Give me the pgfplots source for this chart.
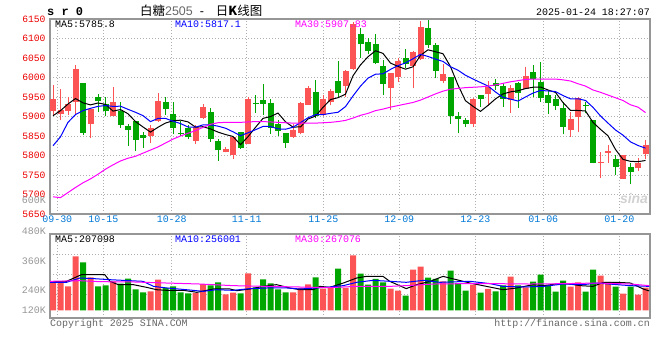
\documentclass[border=0pt]{standalone}
\usepackage{pgfplots}
\pgfplotsset{compat=1.18}
\usepackage{pgfplotstable}
\usepackage{fontspec}
\setmainfont{Liberation Sans}
\setmonofont{Liberation Mono}
\newfontfamily\cjk{Noto Sans CJK SC}
\definecolor{cred}{RGB}{252,84,84}
\definecolor{cgreen}{RGB}{0,166,0}
\definecolor{tickred}{RGB}{235,0,0}
\definecolor{dateblue}{RGB}{0,120,215}
\definecolor{fgray}{RGB}{150,150,150}
\definecolor{ggray}{RGB}{175,175,175}
\definecolor{mablue}{RGB}{0,0,255}
\definecolor{mamag}{RGB}{255,0,255}

\pgfplotstableread{
x o h l c
0 5914 5981 5904 5945
1 5907 5970 5891 5917
2 5914 5951 5904 5932
3 5936 6032 5904 6023
5 5882 5921 5846 5919
8 5902 5976 5900 5936
13 5851 5878 5833 5870
14 5888 5960 5887 5940
19 5837 5878 5829 5873
20 5895 5933 5894 5924
23 5808 5823 5808 5817
24 5801 5848 5791 5848
26 5829 5951 5829 5945
32 5848 5882 5846 5865
33 5857 5938 5854 5935
34 5930 5979 5929 5972
36 5904 5955 5902 5945
37 5936 5970 5929 5965
39 5979 6019 5951 6017
40 6022 6143 6019 6136
45 5974 6012 5917 6012
46 6002 6049 5989 6042
48 6030 6068 5972 6066
49 6047 6145 6045 6130
52 5992 6034 5985 6009
56 5882 5947 5874 5945
58 5958 5991 5928 5976
61 5942 5981 5910 5972
63 5970 6028 5970 6004
69 5865 5912 5848 5894
70 5898 5951 5859 5947
73 5781 5808 5743 5784
74 5806 5827 5782 5812
76 5741 5801 5740 5801
78 5767 5794 5760 5780
79 5803 5840 5791 5827
}\redk

\pgfplotstableread{
x o h l c
4 5986 5986 5852 5858
6 5951 5958 5912 5941
7 5932 5951 5900 5915
9 5913 5938 5871 5878
10 5876 5882 5825 5865
11 5888 5888 5812 5841
12 5853 5859 5820 5846
15 5936 5951 5904 5919
16 5906 5936 5854 5870
17 5857 5888 5851 5854
18 5871 5878 5842 5848
21 5912 5921 5835 5842
22 5837 5842 5787 5813
25 5859 5859 5817 5818
27 5934 5955 5909 5933
28 5942 5983 5904 5932
29 5934 5945 5856 5871
30 5880 5891 5851 5863
31 5858 5858 5820 5833
35 5962 5994 5895 5900
38 5991 6043 5951 5959
41 6111 6128 6051 6085
42 6090 6102 6059 6069
43 6085 6111 6034 6036
44 6029 6045 5955 5983
47 6051 6073 6024 6034
50 6126 6147 6076 6083
51 6083 6088 5998 6017
53 6000 6000 5882 5900
54 5900 5911 5857 5894
55 5891 5897 5874 5882
57 5955 5955 5925 5945
59 5985 5996 5968 5978
60 5978 5985 5925 5945
62 5985 5988 5923 5959
64 6013 6032 5951 5995
65 5988 6039 5938 5948
66 5955 5968 5906 5934
67 5945 5955 5917 5928
68 5921 5936 5854 5874
71 5930 5938 5908 5928
72 5891 5891 5780 5782
75 5791 5801 5750 5771
77 5771 5780 5726 5757
}\greenk

\pgfplotstableread{
x v
0 322
1 303
2 266
3 599
5 366
8 322
13 211
14 340
19 192
20 292
23 178
24 196
26 411
32 200
33 248
34 289
36 241
37 248
39 248
40 611
45 241
46 218
48 451
49 485
52 322
56 285
58 237
61 374
63 255
69 263
70 311
73 385
74 315
76 185
78 174
79 252
}\redv

\pgfplotstableread{
x v
4 533
6 266
7 278
9 296
10 352
11 233
12 200
15 248
16 266
17 200
18 189
21 278
22 311
25 189
27 255
28 344
29 300
30 233
31 200
35 366
38 463
41 407
42 285
43 348
44 311
47 163
50 363
51 348
53 440
54 303
55 218
57 196
59 211
60 278
62 278
64 318
65 396
66 278
67 207
68 329
71 207
72 451
75 263
77 263
}\greenv

\pgfplotstableread{
y
5902
5915
5932
5946
5935
5929.8
5934.6
5931.2
5913.8
5917.8
5907
5887
5873.2
5860
5872.4
5883.2
5889
5890.6
5886.2
5872.8
5873.8
5868.2
5860
5853.8
5848.8
5827.6
5848.2
5872.2
5895.2
5899.8
5908.8
5886.4
5872.8
5873.4
5893.6
5901
5923.4
5943.4
5948.2
5957.2
6004.4
6032.4
6053.2
6068.6
6061.8
6037
6028.4
6021.4
6027.4
6056.8
6071
6066
6061
6027.8
5980.6
5940.4
5926
5913.2
5928.4
5945.2
5957.8
5963.2
5966
5971.6
5975
5975.6
5968
5961.8
5935.8
5915.6
5915.4
5914.2
5885
5867
5850.6
5815.4
5790
5785
5784.2
5787.2
}\mafive

\pgfplotstableread{
y
5825
5848
5885
5905
5915
5921
5926
5928
5926
5926.4
5918.4
5910.8
5902.2
5886.9
5895.1
5895.1
5888
5881.9
5873.1
5872.6
5878.5
5878.6
5875.3
5870
5860.8
5850.7
5858.2
5866.1
5874.5
5874.3
5868.2
5867.3
5872.5
5884.3
5896.7
5904.9
5904.9
5908.1
5910.8
5925.4
5952.7
5977.9
5998.3
6008.4
6009.5
6020.7
6030.4
6037.3
6048
6059.3
6054
6047.2
6041.2
6027.6
6018.7
6005.7
5996
5987.1
5978.1
5962.9
5949.1
5944.6
5939.6
5950
5960.1
5966.7
5965.6
5963.9
5953.7
5945.3
5945.5
5941.1
5923.4
5901.4
5883.1
5865.4
5852.1
5835
5825.6
5818.9
}\maten

\pgfplotstableread{
y
5694
5692
5705
5718
5730
5740
5752
5765
5776
5786
5793
5798
5806
5814
5822
5832
5842
5850
5857
5864
5872
5880
5884
5885
5885
5885
5886
5887
5887
5886
5885
5884
5883
5883
5883
5883
5884
5885
5887
5890
5896
5903
5908
5915
5919
5924
5928
5932
5936
5942
5950
5958
5965
5970
5972
5974
5975
5976
5978
5981
5985
5989
5992
5995
5996
5996
5996
5996
5994
5991
5984
5978
5968
5962
5955
5948
5941
5930
5924
5910
}\mathirty

\begin{document}
\begin{tikzpicture}
\useasboundingbox (0bp,0bp) rectangle (660bp,-360bp);
\tikzset{mono/.style={font=\fontsize{10}{12}\selectfont\ttfamily}}
\pgfplotsset{
  kframe/.style={
    scale only axis, width=600bp,
    xmin=-0.4, xmax=79.6,
    axis line style={fgray, line width=1.2bp},
    grid=major,
    major grid style={ggray, line width=0.8bp, dash pattern=on 1bp off 2bp},
    major tick length=0pt,
    xtick={0.57,6.71,15.83,25.83,36.04,46.17,56.31,65.37,75.51},
    /pgf/number format/assume math mode=true,
    /pgf/number format/1000 sep={},
    clip=true,
  },
  wick/.style={only marks, mark=*, mark size=0pt, mark options={draw=none, fill=none}, forget plot,
    error bars/.cd, y dir=plus, y explicit, error mark=none,
    error bar style={line width=1bp, solid, draw=#1}},
  body/.style={only marks, mark=*, mark size=0pt, mark options={draw=none, fill=none}, forget plot,
    error bars/.cd, y dir=plus, y explicit, error mark=none,
    error bar style={line width=6bp, solid, draw=#1}},
}

% ---------- price panel ----------
\begin{axis}[kframe, at={(50bp,-19bp)}, anchor=north west, height=195bp,
  ymin=5650, ymax=6150,
  ytick={5650,5700,...,6150},
  yticklabel style={font=\fontsize{9.7}{11}\selectfont\ttfamily, text=tickred, anchor=east, xshift=-1bp},
  xticklabels={09-30,10-15,10-28,11-11,11-25,12-09,12-23,01-06,01-20},
  xticklabel style={font=\fontsize{10}{12}\selectfont\ttfamily, text=dateblue, anchor=center, yshift=-5.5bp},
]
\addplot[wick=cred] table[x=x, y=l, y error plus expr=\thisrow{h}-\thisrow{l}] {\redk};
\addplot[wick=cgreen] table[x=x, y=l, y error plus expr=\thisrow{h}-\thisrow{l}] {\greenk};
\addplot[body=cred] table[x=x, y=o, y error plus expr={max(\thisrow{c}-\thisrow{o},1.5)}] {\redk};
\addplot[body=cgreen] table[x=x, y=c, y error plus expr={max(\thisrow{o}-\thisrow{c},1.5)}] {\greenk};
\addplot[black, line width=1bp, mark=none] table[x expr=\coordindex, y=y] {\mafive};
\addplot[mablue, line width=1bp, mark=none] table[x expr=\coordindex, y=y] {\maten};
\addplot[mamag, line width=1bp, mark=none] table[x expr=\coordindex, y=y] {\mathirty};
\end{axis}

% ---------- volume panel ----------
\begin{axis}[kframe, at={(50bp,-234bp)}, anchor=north west, height=84bp,
  ymin=-85, ymax=847,
  ytick={174,396,618}, yticklabels={},
  xticklabels={},
]
\addplot[ybar, bar width=6bp, bar shift=0pt, fill=cred, draw=none] table[x=x, y=v] {\redv};
\addplot[ybar, bar width=6bp, bar shift=0pt, fill=cgreen, draw=none] table[x=x, y=v] {\greenv};
\addplot[black, line width=1bp, mark=none] coordinates {
(-0.4,315) (1.8,322) (3.8,396) (4.9,396) (6.9,396) (7.6,322) (8.7,285) (10.7,285) (12.5,255) (13.8,229) (15.2,222) (17.4,222) (19.2,200) (21.4,237) (23.6,237) (24.5,218) (26.3,237) (28,266) (29.8,285) (31.6,248) (32.9,229) (34.7,229) (35.6,266) (36.9,255) (38.7,303) (40.5,359) (41.8,377) (44,377) (44.9,322) (47.1,241) (48.5,285) (50.3,322) (52,377) (53.8,340) (55.6,303) (57.8,266) (60,229) (61.8,248) (64,285) (65.4,274) (68,303) (70.3,274) (72,266) (73.4,311) (75.2,311) (77,303) (78.7,237) (79.5,215)};
\addplot[mablue, line width=1bp, mark=none] coordinates {
(-0.4,311) (1.8,311) (3.6,359) (5.4,352) (7.6,340) (12,322) (13.4,266) (15.2,248) (17.8,229) (20,211) (21.8,229) (24,222) (26.3,241) (28.5,248) (31.2,248) (32.9,237) (35.1,248) (36.9,259) (38.7,274) (40.5,311) (42.7,333) (44.9,322) (47.1,311) (49.4,333) (51.6,311) (55.6,322) (58.3,296) (60,266) (62.7,259) (65.4,266) (68,292) (70.7,285) (72.5,303) (75.2,285) (77,274) (79.5,266)};
\addplot[mamag, line width=1bp, mark=none] coordinates {
(-0.4,322) (3.6,329) (6.3,318) (10.7,315) (15.2,303) (19.6,292) (24,274) (28.5,266) (32.9,259) (36.9,252) (40.5,266) (44.9,266) (48,278) (50.7,292) (54.7,296) (59.2,296) (63.6,292) (68,296) (72.5,303) (77,292) (79.5,274)};
\end{axis}

% ---------- texts ----------
\node[anchor=west, inner sep=0pt, font=\fontsize{12}{14}\selectfont\ttfamily\bfseries] at (47bp,-12bp) {s r 0};
\node[anchor=west, inner sep=0pt, font=\fontsize{12.5}{14}\selectfont] at (140bp,-11bp)
  {{\cjk 白糖}{\color{black!60}2505}\hspace{7bp}-\hspace{12bp}{\cjk 日\textbf{K}线图}};
\node[anchor=east, inner sep=0pt, mono] at (650bp,-12bp) {2025-01-24 18:27:07};
\node[anchor=west, inner sep=0pt, mono, text=black] at (55bp,-24bp) {MA5:5785.8};
\node[anchor=west, inner sep=0pt, mono, text=mablue] at (175bp,-24bp) {MA10:5817.1};
\node[anchor=west, inner sep=0pt, mono, text=mamag] at (295bp,-24bp) {MA30:5907.83};
\node[anchor=west, inner sep=0pt, mono, text=black] at (55bp,-239bp) {MA5:207098};
\node[anchor=west, inner sep=0pt, mono, text=mablue] at (175bp,-239bp) {MA10:256001};
\node[anchor=west, inner sep=0pt, mono, text=mamag] at (295bp,-239bp) {MA30:267076};
\node[anchor=east, inner sep=0pt, mono, text=fgray] at (46bp,-200bp) {600K};
\node[anchor=east, inner sep=0pt, mono, text=fgray] at (46bp,-231bp) {480K};
\node[anchor=east, inner sep=0pt, mono, text=fgray] at (46bp,-261bp) {360K};
\node[anchor=east, inner sep=0pt, mono, text=fgray] at (46bp,-290bp) {240K};
\node[anchor=east, inner sep=0pt, mono, text=fgray] at (46bp,-310bp) {120K};
\node[anchor=west, inner sep=0pt, mono, text=black!60] at (50bp,-324bp) {Copyright 2025 SINA.COM};
\node[anchor=east, inner sep=0pt, mono, text=black!60] at (650bp,-324bp) {http://finance.sina.com.cn};
\node[inner sep=0pt, font=\fontsize{14}{16}\selectfont\bfseries\itshape, text=black!18] at (634bp,-199bp) {sina};
\end{tikzpicture}
\end{document}
